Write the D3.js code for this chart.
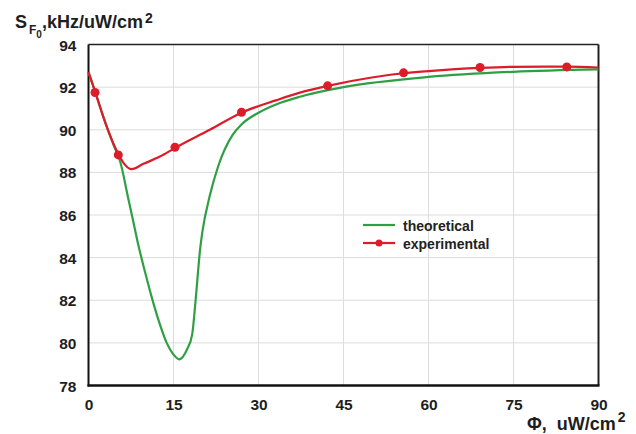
<!DOCTYPE html>
<html>
<head>
<meta charset="utf-8">
<script src="https://cdn.jsdelivr.net/npm/d3@7/dist/d3.min.js"></script>
<style>
  html, body { margin: 0; padding: 0; background: #fff; }
  svg { display: block; font-family: "Liberation Sans", Arial, sans-serif; }
</style>
</head>
<body>
<svg id="chart" width="636" height="434"></svg>
<script>
// ---- data ----
const xTicks = [0, 15, 30, 45, 60, 75, 90];
const yTicks = [78, 80, 82, 84, 86, 88, 90, 92, 94];

// theoretical curve (x: flux, y: sensitivity)
const theoreticalX = [0, 1.15, 2.5, 4.4, 5.6, 7.0, 7.9, 8.7, 10, 11.2, 12.5, 13.8, 15, 16, 17.4, 18.3, 18.9, 19.7, 20.15, 21.4, 22.9, 25.4, 27, 30, 33.2, 37.3, 45, 60, 75, 90];
const theoreticalY = [92.7, 91.8, 90.7, 89.3, 88.5, 86.8, 85.7, 84.7, 83.3, 82.1, 80.95, 80.0, 79.45, 79.23, 79.7, 80.4, 82.0, 84.4, 85.3, 86.9, 88.3, 89.75, 90.25, 90.8, 91.2, 91.55, 92.0, 92.48, 92.72, 92.83];

// experimental fitted curve
const experimentalCurveX = [0, 1.15, 3, 5, 6.3, 7.6, 9.7, 12.6, 15.3, 21.4, 27, 33.2, 37.3, 42.2, 50, 55.6, 60, 69.1, 75, 84.4, 90];
const experimentalCurveY = [92.7, 91.8, 90.3, 89.0, 88.4, 88.15, 88.4, 88.74, 89.15, 90.0, 90.8, 91.39, 91.74, 92.06, 92.45, 92.65, 92.75, 92.9, 92.95, 92.96, 92.92];

// experimental measured points
const experimentalX = [1.15, 5.26, 15.26, 27, 42.2, 55.6, 69.1, 84.4];
const experimentalY = [91.75, 88.82, 89.18, 90.82, 92.06, 92.67, 92.92, 92.95];

const seriesNames = ["theoretical", "experimental"];
const colors = { theoretical: "#2ea043", experimental: "#dd1c2a" };

// ---- layout ----
const svg = d3.select("#chart");
const pL = 88.5, pR = 598.5, pT = 44.5, pB = 385.5;

const x = d3.scaleLinear().domain([0, 90]).range([pL, pR]);
const y = d3.scaleLinear().domain([78, 94]).range([pB, pT]);

// grid
const grid = svg.append("g");
grid.selectAll("line.vg").data(xTicks.slice(1, -1)).join("line")
  .attr("x1", d => x(d)).attr("x2", d => x(d))
  .attr("y1", pT).attr("y2", pB)
  .attr("stroke", "#dcdcdc").attr("stroke-width", 1);
grid.selectAll("line.hg").data(yTicks.slice(1, -1)).join("line")
  .attr("x1", pL).attr("x2", pR)
  .attr("y1", d => y(d)).attr("y2", d => y(d))
  .attr("stroke", "#dcdcdc").attr("stroke-width", 1);

// axes via d3
const xAxis = d3.axisBottom(x).tickValues(xTicks).tickSize(0).tickPadding(13);
const yAxis = d3.axisLeft(y).tickValues(yTicks).tickSize(0).tickPadding(12);

const gx = svg.append("g").attr("transform", `translate(0,${pB})`).call(xAxis);
const gy = svg.append("g").attr("transform", `translate(${pL},0)`).call(yAxis);
[gx, gy].forEach(g => {
  g.select(".domain").remove();
  g.selectAll("text")
    .attr("font-family", "Liberation Sans, Arial, sans-serif")
    .attr("font-size", 15.5).attr("font-weight", "bold").attr("fill", "#1e1e1e");
});
gy.selectAll("text").attr("dy", "0.36em");

// frame
svg.append("line").attr("x1", pL).attr("x2", pR).attr("y1", pT).attr("y2", pT)
  .attr("stroke", "#222").attr("stroke-width", 1.5);
svg.append("line").attr("x1", pR).attr("x2", pR).attr("y1", pT).attr("y2", pB)
  .attr("stroke", "#222").attr("stroke-width", 2);
svg.append("line").attr("x1", pL).attr("x2", pL).attr("y1", pT).attr("y2", pB + 1)
  .attr("stroke", "#111").attr("stroke-width", 2);
svg.append("line").attr("x1", pL - 1).attr("x2", pR + 1).attr("y1", pB).attr("y2", pB)
  .attr("stroke", "#111").attr("stroke-width", 2.5);

// curves
const line = d3.line().x(d => x(d[0])).y(d => y(d[1])).curve(d3.curveMonotoneX);
const theo = theoreticalX.map((v, i) => [v, theoreticalY[i]]);
const expC = experimentalCurveX.map((v, i) => [v, experimentalCurveY[i]]);
const expP = experimentalX.map((v, i) => [v, experimentalY[i]]);

svg.append("path").datum(theo).attr("d", line)
  .attr("fill", "none").attr("stroke", colors.theoretical).attr("stroke-width", 2.2)
  .attr("stroke-linejoin", "round");
svg.append("path").datum(expC).attr("d", line)
  .attr("fill", "none").attr("stroke", colors.experimental).attr("stroke-width", 2.2)
  .attr("stroke-linejoin", "round");
svg.append("g").selectAll("circle").data(expP).join("circle")
  .attr("cx", d => x(d[0])).attr("cy", d => y(d[1])).attr("r", 4.5)
  .attr("fill", colors.experimental);

// legend
const lg = svg.append("g");
const lx = 363, ly = 225;
seriesNames.forEach((name, i) => {
  const yy = ly + i * 18;
  lg.append("line").attr("x1", lx).attr("x2", lx + 32).attr("y1", yy).attr("y2", yy)
    .attr("stroke", colors[name]).attr("stroke-width", 2.2);
  if (name === "experimental") {
    lg.append("circle").attr("cx", lx + 16).attr("cy", yy).attr("r", 3.5).attr("fill", colors[name]);
  }
  lg.append("text").attr("x", lx + 40).attr("y", yy + 5.5)
    .attr("font-size", 14).attr("font-weight", "bold").attr("fill", "#222")
    .text(name);
});

// y title: S_{F_0}, kHz/uW/cm^2
const yt = svg.append("text").attr("x", 15).attr("y", 28)
  .attr("font-size", 18).attr("font-weight", "bold").attr("fill", "#1e1e1e");
yt.append("tspan").text("S");
yt.append("tspan").attr("font-size", 12).attr("dy", 6).attr("dx", 2).text("F");
yt.append("tspan").attr("font-size", 10).attr("dy", 4).text("0");
yt.append("tspan").attr("dy", -10).text(",kHz/uW/cm");
yt.append("tspan").attr("font-size", 14).attr("dy", -5).attr("dx", 2).text("2");

// x title
const xt = svg.append("text").attr("x", 527).attr("y", 430)
  .attr("font-size", 18).attr("font-weight", "bold").attr("fill", "#1e1e1e")
  .attr("xml:space", "preserve");
xt.append("tspan").text("Φ,  uW/cm");
xt.append("tspan").attr("font-size", 14).attr("dy", -8).attr("dx", 2).text("2");
</script>
</body>
</html>
